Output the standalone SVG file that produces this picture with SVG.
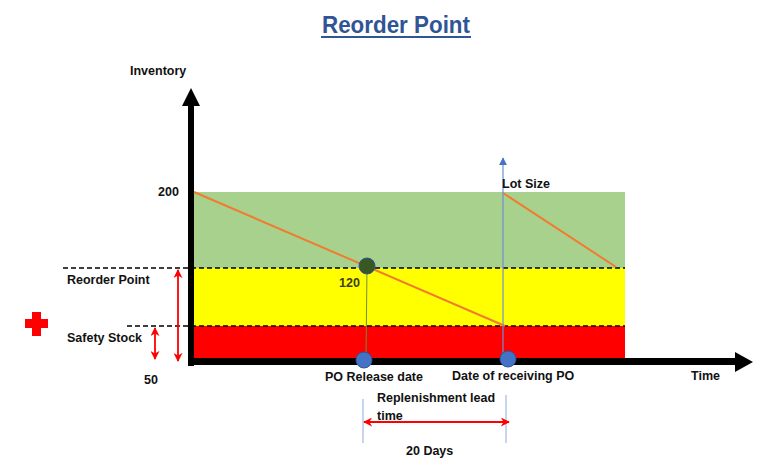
<svg xmlns="http://www.w3.org/2000/svg" width="768" height="461" viewBox="0 0 768 461">
<style>
text{font-family:"Liberation Sans",Arial,sans-serif;font-weight:bold;font-size:12.5px;fill:#111}
.dash{stroke:#000;stroke-width:1.5;stroke-dasharray:5,3;fill:none}
.red{stroke:#ff0000;stroke-width:1.8;fill:none}
.or{stroke:#f07c30;stroke-width:2;fill:none}
</style>
<defs>
<marker id="ra" viewBox="0 0 10 10" refX="9" refY="5" markerWidth="9" markerHeight="9" orient="auto-start-reverse" markerUnits="userSpaceOnUse"><path d="M0,0 L10,5 L0,10 L3,5 Z" fill="#ff0000"/></marker>
<marker id="ba" viewBox="0 0 10 10" refX="9" refY="5" markerWidth="8" markerHeight="8" orient="auto" markerUnits="userSpaceOnUse"><path d="M0,0 L10,5 L0,10 Z" fill="#4472c4"/></marker>
</defs>
<rect width="768" height="461" fill="#fff"/>
<g id="title"><text x="396" y="33" text-anchor="middle" style="font-size:24px;fill:#2f5597" textLength="148" lengthAdjust="spacingAndGlyphs">Reorder Point</text><line x1="321" y1="37" x2="471" y2="37" stroke="#2f5597" stroke-width="2"/></g>
<g id="bands">
<rect x="194" y="192" width="431" height="76" fill="#a9d18e"/>
<rect x="194" y="268" width="431" height="58" fill="#ffff00"/>
<rect x="194" y="326" width="431" height="34" fill="#ff0000"/>
</g>
<g id="axes">
<rect x="188" y="104" width="6" height="262" fill="#000"/>
<path d="M182,106 L191,88 L200,106 Z" fill="#000"/>
<rect x="188" y="358" width="549" height="7" fill="#000"/>
<path d="M735,352 L753,362 L735,372 Z" fill="#000"/>
</g>
<g id="connectors">
<line class="dash" x1="63" y1="268" x2="625" y2="268"/>
<line class="dash" x1="127" y1="326" x2="625" y2="326"/>
<line class="or" x1="194" y1="192" x2="505" y2="326"/>
<line class="or" x1="503" y1="193" x2="616" y2="267"/>
<line x1="367" y1="266" x2="366" y2="358" stroke="#6f8f3a" stroke-width="1"/>
<line x1="503" y1="360" x2="503" y2="158" stroke="#6f8fd0" stroke-width="1.2" marker-end="url(#ba)"/>
<line class="red" x1="178" y1="270" x2="178" y2="361" marker-start="url(#ra)" marker-end="url(#ra)"/>
<line class="red" x1="155" y1="328" x2="155" y2="359" marker-start="url(#ra)" marker-end="url(#ra)"/>
<line x1="363" y1="399" x2="363" y2="443" stroke="#8faadc" stroke-width="1"/>
<line x1="506" y1="395" x2="506" y2="443" stroke="#8faadc" stroke-width="1"/>
<line class="red" x1="364" y1="422" x2="509" y2="422" stroke-width="2" marker-start="url(#ra)" marker-end="url(#ra)"/>
</g>
<g id="reorder-node"><circle cx="367" cy="266" r="8" fill="#385723" stroke="#2f5597" stroke-width="1"/><text x="339" y="287" style="fill:#3d3d1f">120</text></g>
<g id="po-release"><circle cx="364" cy="360" r="8" fill="#4472c4" stroke="#2f5597" stroke-width="1"/><text x="325" y="381">PO Release date</text></g>
<g id="po-receive"><circle cx="508" cy="359" r="8" fill="#4472c4" stroke="#2f5597" stroke-width="1"/><text x="452" y="380">Date of receiving PO</text></g>
<g id="cross"><rect x="25" y="319" width="23" height="9" fill="#ff0000"/><rect x="32" y="312" width="9" height="24" fill="#ff0000"/></g>
<g id="labels">
<text x="130" y="75">Inventory</text>
<text x="158" y="196">200</text>
<text x="67" y="284">Reorder Point</text>
<text x="67" y="342">Safety Stock</text>
<text x="144" y="384">50</text>
<text x="502" y="188">Lot Size</text>
<text x="691" y="380">Time</text>
<text x="377" y="402">Replenishment lead</text>
<text x="377" y="420">time</text>
<text x="406" y="455">20 Days</text>
</g>
</svg>
